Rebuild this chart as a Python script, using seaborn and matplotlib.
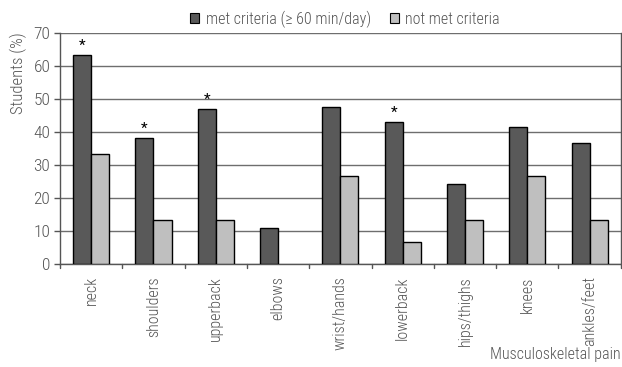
import matplotlib
matplotlib.use("Agg")
import matplotlib.pyplot as plt
import seaborn as sns
import pandas as pd
from matplotlib.patches import Patch

categories = ["neck", "shoulders", "upperback", "elbows", "wrist/hands",
              "lowerback", "hips/thighs", "knees", "ankles/feet"]
met = [63.3, 38.3, 46.9, 10.9, 47.7, 43.0, 24.2, 41.4, 36.7]
not_met = [33.3, 13.3, 13.3, 0.0, 26.7, 6.7, 13.3, 26.7, 13.3]
significant = [True, True, True, False, False, True, False, False, False]
series = ["met criteria (\u2265 60 min/day)", "not met criteria"]
yticks = [0, 10, 20, 30, 40, 50, 60, 70]

sns.set_theme(style="white")
plt.rcParams['font.family'] = ['Roboto Condensed', 'DejaVu Sans']
plt.rcParams['font.weight'] = 'light'
txt = '#555555'
FS = 11.5

df = pd.DataFrame({
    "cat": categories * 2,
    "val": met + not_met,
    "grp": [series[0]] * len(categories) + [series[1]] * len(categories),
})

fig = plt.figure(figsize=(6.22, 3.67), dpi=100)
ax = fig.add_axes([0.0965, 0.281, 0.9015, 0.629])
colors = ['#595959', '#BFBFBF']
sns.barplot(data=df, x="cat", y="val", hue="grp", palette=colors, ax=ax,
            width=0.58, edgecolor='black', linewidth=1.0, legend=False,
            saturation=1, zorder=3)
# zero-height bars are not visible in the reference
for p in ax.patches:
    if p.get_height() == 0:
        p.set_visible(False)

ax.set_ylim(0, 70)
ax.set_xlim(-0.5, len(categories) - 0.5)
ax.set_yticks(yticks)
ax.set_yticklabels([str(t) for t in yticks], fontsize=FS + 1, color=txt)
ax.yaxis.grid(True, color='#6e6e6e', linewidth=1.0, zorder=0)
ax.set_axisbelow(True)
ax.spines['top'].set_visible(False)
for s in ['left', 'bottom', 'right']:
    ax.spines[s].set_color('#555555')
    ax.spines[s].set_linewidth(1.0)

ax.set_xticks(range(len(categories)))
ax.set_xticklabels(categories, rotation=90, fontsize=FS, color=txt)
ax.tick_params(axis='x', length=0, pad=9)
for i in range(len(categories) + 1):
    ax.plot([i - 0.5, i - 0.5], [0, -1.3], color='#555555', lw=1.0,
            clip_on=False, zorder=4)
ax.tick_params(axis='y', length=4, color='#555555', left=True, width=1.0, pad=3)
ax.set_xlabel("")
ax.set_ylabel("")

off = 0.58 / 4
for i, (v, sig) in enumerate(zip(met, significant)):
    if sig:
        ax.text(i - off, v + 0.6, "*", ha='center', va='bottom', fontsize=11,
                color='black', fontweight='normal')

fig.text(0.029, 1 - 73 / 367, "Students (%)", rotation=90, ha='center',
         va='center', fontsize=FS + 0.5, color=txt)
fig.text(0.998, 1 - 355 / 367, "Musculoskeletal pain", ha='right', va='center',
         fontsize=FS, color=txt)

handles = [Patch(facecolor=colors[0], edgecolor='black', linewidth=0.8),
           Patch(facecolor=colors[1], edgecolor='black', linewidth=0.8)]
fig.legend(handles, series, loc='center', bbox_to_anchor=(345 / 622, 1 - 19 / 367),
           ncol=2, frameon=False, fontsize=FS, handlelength=0.55,
           handleheight=0.55, handletextpad=0.4, columnspacing=1.2,
           labelcolor=txt)

fig.savefig("out.png", dpi=100)
